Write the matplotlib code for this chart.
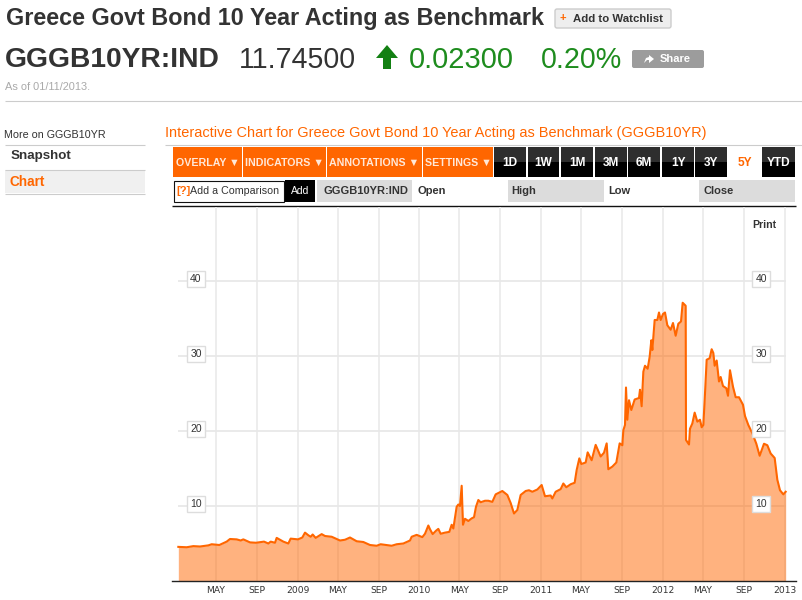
import matplotlib
matplotlib.use('Agg')
from matplotlib import pyplot as plt
from matplotlib.patches import Rectangle, Polygon, FancyBboxPatch
import pandas as pd

# days since 1 Jan 2008
days = [8, 33, 53, 73, 98, 108, 121, 131, 153, 163, 183, 195, 203, 223, 241, 265, 278, 285, 298, 303,
        323, 338, 345, 367, 380, 388, 398, 405, 411, 420, 438, 448, 468, 493, 508, 523, 543, 563, 583, 603,
        615, 648, 663, 683, 703, 708, 723, 740, 748, 758, 763, 771, 781, 788, 795, 808, 821, 828, 833, 843,
        848, 853, 858, 862, 868, 878, 888, 895, 901, 908, 915, 928, 938, 950, 960, 980, 995, 1005, 1015, 1025,
        1035, 1050, 1060, 1070, 1085, 1098, 1108, 1125, 1130, 1140, 1155, 1163, 1172, 1185, 1197, 1203, 1211, 1217, 1230, 1236,
        1248, 1260, 1275, 1285, 1293, 1298, 1310, 1322, 1332, 1340, 1343, 1348, 1351, 1355, 1360, 1367, 1377, 1390, 1393, 1398,
        1403, 1408, 1416, 1422, 1427, 1430, 1437, 1445, 1450, 1455, 1462, 1468, 1475, 1485, 1492, 1500, 1508, 1516, 1521, 1530,
        1531, 1540, 1543, 1550, 1557, 1565, 1573, 1578, 1583, 1587, 1593, 1602, 1608, 1613, 1617, 1623, 1630, 1635, 1642, 1652,
        1657, 1663, 1672, 1680, 1690, 1702, 1708, 1718, 1730, 1742, 1752, 1765, 1775, 1785, 1797, 1805, 1813, 1823, 1830]
yields = [4.55, 4.5, 4.65, 4.6, 4.75, 4.9, 4.85, 4.8, 5.25, 5.6, 5.55, 5.4, 5.55, 5.15, 5.1, 5.25, 5.0, 5.25, 5.1, 5.75,
          5.25, 5.0, 5.65, 5.55, 5.8, 6.45, 6.1, 5.9, 6.2, 5.75, 6.25, 6.0, 5.9, 5.4, 5.5, 5.8, 5.3, 5.2, 4.8, 4.7,
          4.9, 4.7, 4.9, 5.0, 5.4, 5.9, 6.15, 5.85, 6.3, 7.4, 6.9, 6.25, 6.7, 6.95, 6.3, 6.45, 6.55, 7.5, 7.0, 9.9,
          10.2, 10.0, 12.7, 7.5, 8.3, 8.0, 8.35, 8.5, 9.9, 10.8, 10.5, 10.7, 10.7, 10.55, 11.55, 12.0, 11.47, 10.4, 9.0, 9.47,
          11.47, 12.0, 12.1, 11.9, 12.2, 12.8, 11.3, 11.4, 11.0, 11.9, 12.25, 13.0, 12.5, 12.9, 13.1, 14.8, 16.35, 15.6, 15.8, 17.15,
          16.1, 18.15, 16.6, 17.1, 18.35, 14.9, 15.25, 15.8, 18.35, 18.1, 20.1, 20.8, 25.8, 21.5, 24.1, 22.8, 24.2, 24.4, 25.5, 23.3,
          27.9, 28.7, 28.3, 29.9, 32.1, 30.8, 34.8, 34.8, 35.8, 34.8, 35.6, 35.8, 34.1, 33.5, 34.4, 32.7, 34.3, 34.6, 37.1, 36.7,
          18.8, 18.2, 20.3, 21.0, 22.45, 21.25, 21.5, 20.5, 20.8, 24.1, 29.5, 29.7, 30.9, 30.4, 28.7, 29.4, 26.6, 27.2, 26.0, 25.7,
          24.7, 28.1, 25.9, 24.5, 24.5, 23.5, 22.0, 20.8, 19.7, 18.3, 16.7, 18.3, 18.1, 17.0, 16.4, 13.5, 12.1, 11.55, 11.9]

tick_dates = ['2008-05-01', '2008-09-01', '2009-01-01', '2009-05-01', '2009-09-01', '2010-01-01', '2010-05-01',
              '2010-09-01', '2011-01-01', '2011-05-01', '2011-09-01', '2012-01-01', '2012-05-01', '2012-09-01', '2013-01-01']
tick_labels = ['MAY', 'SEP', '2009', 'MAY', 'SEP', '2010', 'MAY', 'SEP', '2011', 'MAY', 'SEP', '2012', 'MAY', 'SEP', '2013']
y_levels = [10, 20, 30, 40]

ORANGE = '#ff6600'
SANS = 'Liberation Sans'

dates = pd.Timestamp('2008-01-01') + pd.to_timedelta(days, unit='D')

fig = plt.figure(figsize=(8.02, 6), dpi=100)

# page furniture, in pixel coordinates
ui = fig.add_axes([0, 0, 1, 1])
ui.set_xlim(0, 802)
ui.set_ylim(600, 0)
ui.axis('off')


def txt(x, y, s, size, color='#333333', weight='normal', ha='left', family=SANS):
    ui.text(x, y, s, fontsize=size, color=color, fontweight=weight, ha=ha, va='center', family=family)


def box(x0, y0, x1, y1, color, edge='none', lw=0):
    ui.add_patch(Rectangle((x0, y0), x1 - x0, y1 - y0, facecolor=color, edgecolor=edge, linewidth=lw))


def line(x0, x1, y, color='#cccccc', lw=0.8):
    ui.plot([x0, x1], [y, y], color=color, lw=lw, solid_capstyle='butt')


txt(6, 18.5, 'Greece Govt Bond 10 Year Acting as Benchmark', 16.8, weight='bold')
ui.add_patch(FancyBboxPatch((555, 9), 116, 19, boxstyle='round,pad=0,rounding_size=2',
                            facecolor='#eeeeee', edgecolor='#cccccc', linewidth=1))
txt(560, 18, '+', 8, color=ORANGE, weight='bold')
txt(573, 18.5, 'Add to Watchlist', 8.2, weight='bold')

txt(5, 60, 'GGGB10YR:IND', 20.3, weight='bold')
txt(239, 60, '11.74500', 20.6)
ui.add_patch(Polygon([(376, 58), (387, 45), (398, 58), (391, 58), (391, 69), (383, 69), (383, 58)],
                     facecolor='#138013', edgecolor='none'))
txt(409, 60, '0.02300', 21, color='#1e8c1e')
txt(541, 60, '0.20%', 20.6, color='#1e8c1e')
ui.add_patch(FancyBboxPatch((632, 50), 72, 18, boxstyle='round,pad=0,rounding_size=2',
                            facecolor='#9c9c9c', edgecolor='none'))
ui.add_patch(Polygon([(644, 63), (646, 58), (649, 57), (649, 55), (654, 59), (649, 63), (649, 60), (647, 60)],
                     facecolor='white', edgecolor='none'))
txt(660, 59.5, 'Share', 8, color='white', weight='bold')
txt(5, 87, 'As of 01/11/2013.', 7.9, color='#aaaaaa')
line(5, 802, 100.5)

txt(4, 134.5, 'More on GGGB10YR', 7.75)
line(5, 145, 144.5)
txt(11, 156.5, 'Snapshot', 9.6, weight='bold')
line(5, 145, 169.5)
box(5, 170, 145, 193, '#f0f0f0')
txt(10, 181.5, 'Chart', 9.8, color=ORANGE, weight='bold')
line(5, 145, 193.5)

txt(165, 133.5, 'Interactive Chart for Greece Govt Bond 10 Year Acting as Benchmark (GGGB10YR)', 10.46, color=ORANGE)
line(165, 802, 144.5)

for x0, x1, s in [(173, 242, 'OVERLAY \u25bc'), (243, 326, 'INDICATORS \u25bc'),
                  (327, 422, 'ANNOTATIONS \u25bc'), (423, 493, 'SETTINGS \u25bc')]:
    box(x0, 147, x1, 177, ORANGE)
    txt((x0 + x1) / 2, 162.5, s, 7.7, color='#ffe8d8', weight='bold', ha='center', family=['Liberation Sans', 'DejaVu Sans'])

for x0, x1, s in [(494, 526, '1D'), (528, 559, '1W'), (561, 593, '1M'), (595, 627, '3M'),
                  (628, 660, '6M'), (662, 694, '1Y'), (695, 727, '3Y'), (762, 795, 'YTD')]:
    box(x0, 147, x1, 162, '#2e2e2e')
    box(x0, 162, x1, 177, '#000000')
    txt((x0 + x1) / 2, 162.5, s, 8.6, color='white', weight='bold', ha='center')
txt(744.5, 162.5, '5Y', 8.6, color=ORANGE, weight='bold', ha='center')

box(173.5, 180.5, 283.5, 201.5, 'white', edge='#111111', lw=0.8)
txt(176, 191.5, '[?]', 8, color=ORANGE, weight='bold')
txt(190, 191.5, 'Add a Comparison', 7.7)
box(285, 180, 315, 202, 'black')
txt(300, 191.5, 'Add', 7.5, color='white', ha='center')
box(317, 180, 412, 202, '#dcdcdc')
txt(323, 191.5, 'GGGB10YR:IND', 8, weight='bold')
txt(417, 191.5, 'Open', 8, weight='bold')
box(508, 180, 604, 202, '#dcdcdc')
txt(511, 191.5, 'High', 8, weight='bold')
txt(608, 191.5, 'Low', 8, weight='bold')
box(699, 180, 795, 202, '#dcdcdc')
txt(703, 191.5, 'Close', 8, weight='bold')

# the chart itself: x 172-796 px, y 205-581 px
ax = fig.add_axes([172 / 802, 1 - 581 / 600, 624 / 802, 376 / 600])
ax.patch.set_alpha(0)
x0 = pd.Timestamp('2008-01-01') - pd.Timedelta(days=11)
x1 = pd.Timestamp('2008-01-01') + pd.Timedelta(days=1861)
ax.set_xlim(x0, x1)
ax.set_ylim(0, 376 / 7.5)

tick_pos = [pd.Timestamp(d) for d in tick_dates]
ax.vlines(tick_pos, 0, 49.87, color='#ececec', lw=1.3, zorder=1)
ax.hlines(y_levels, dates[0], dates[-1], color='#e8e8e8', lw=1.3, zorder=1)

ax.fill_between(dates, yields, 0, color=ORANGE, alpha=0.5, linewidth=0, zorder=2)
ax.plot(dates, yields, color=ORANGE, lw=1.5, zorder=3)

ax.set_xticks(tick_pos)
ax.set_xticklabels(tick_labels, fontsize=6.6, color='#333333', family='DejaVu Sans')
ax.tick_params(axis='x', length=0, pad=3.5)
ax.set_yticks([])
for side in ['top', 'left', 'right']:
    ax.spines[side].set_visible(False)
ax.spines['bottom'].set_color('#222222')
ax.spines['bottom'].set_linewidth(1)

for level in y_levels:
    for xpos in [pd.Timestamp('2008-01-01') + pd.Timedelta(days=61), pd.Timestamp('2008-01-01') + pd.Timedelta(days=1757)]:
        ax.text(xpos, level + 0.27, str(level), fontsize=7.5, color='#333333', ha='center', va='center',
                family=SANS, zorder=5,
                bbox=dict(boxstyle='square,pad=0.3', facecolor='white', edgecolor='#dddddd', linewidth=1))

line(172, 796, 205.5, color='#111111', lw=1)
txt(764, 224.5, 'Print', 7.6, weight='bold', ha='center')

fig.savefig('out.png', dpi=100)
